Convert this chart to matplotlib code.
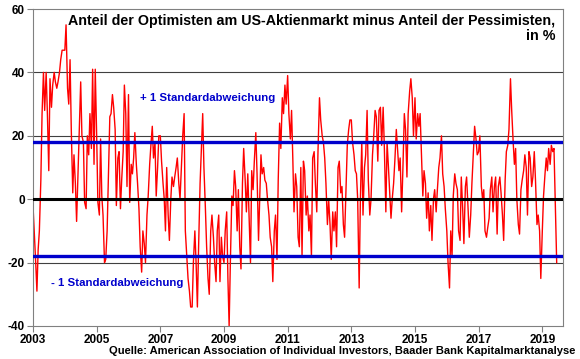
import numpy as np
import pandas as pd
import matplotlib
matplotlib.use("Agg")
import matplotlib.pyplot as plt

plt.rcParams['font.family'] = ['Liberation Sans', 'DejaVu Sans']

y2003 = [-2, -10, -20, -29, -16, -10, 6, 27, 40, 28, 40, 27, 9, 38, 29, 36, 40, 37, 35, 37, 40, 44, 47, 47]
y2004 = [47, 55, 35, 30, 44, 22, 2, 14, 5, -7, 9, 22, 37, 20, 18, -1, -3, 20, 14, 27, 16, 41, 11, 41]
y2005 = [20, -1, -5, 19, 1, -5, -20, -19, -10, 6, 26, 27, 33, 29, 22, -2, 13, 15, -3, 6, 15, 36, 27, 4]
y2006 = [33, -1, 11, 8, 13, 21, 11, 5, -3, -15, -23, -10, -14, -20, -5, 1, 11, 17, 23, 13, 18, 1, 10, 20]
y2007 = [20, 12, 5, 0, -10, 10, -5, -13, 0, 7, 4, 7, 10, 13, 5, 0, 11, 20, 27, -10, -18, -25, -29, -34]
y2008 = [-34, -20, -10, -20, -34, -15, 5, 15, 27, 10, -3, -15, -25, -30, -10, -5, -12, -20, -26, -10, -5, -26, -12, -18]
y2009 = [-20, -10, -4, -25, -40, -20, 1, -2, 9, 4, -10, 3, -15, -22, 5, 16, 6, -4, 8, -5, -20, 9, 3, 12]
y2010 = [21, 8, -13, 1, 14, 8, 10, 6, 5, 0, -5, -12, -15, -26, -10, -5, -19, 6, 24, 16, 32, 27, 36, 30]
y2011 = [39, 27, 19, 28, 13, -4, 8, 4, -12, -15, 10, -18, 12, 9, -5, 1, -10, -5, -18, 13, 15, 5, -4, 15]
y2012 = [32, 25, 20, 18, 13, 5, -8, 0, -8, -19, -4, -10, -4, -15, 10, 12, 2, 4, -8, -12, 4, 17, 22, 25]
y2013 = [25, 18, 14, 9, 8, 0, -28, 0, 18, -5, 10, 14, 28, 6, -5, 0, 14, 20, 28, 26, 12, 28, 29, 17]
y2014 = [29, 16, -4, 18, 11, 3, -6, 0, 5, 12, 22, 16, 9, 13, -4, 9, 27, 22, 7, 27, 34, 38, 32, 20]
y2015 = [32, 19, 27, 23, 27, 15, 1, 9, 5, -6, 2, -10, -2, -13, 0, 3, -4, 3, 10, 13, 20, 8, 4, -3]
y2016 = [-10, -20, -28, -10, -18, 1, 8, 5, 3, -10, -13, 7, -3, -14, 4, 7, -3, -12, -5, 5, 15, 23, 19, 14]
y2017 = [15, 20, 4, 0, 3, -10, -12, -9, -6, 3, 7, -4, 4, 7, -11, 4, 7, 2, -5, -13, 6, 15, 17, 22]
y2018 = [38, 28, 18, 11, 16, 0, -8, -11, 3, 6, 9, 14, 10, -5, 15, 13, 4, 7, 15, 6, -8, -5, -10, -25]
y2019 = [-10, 1, 8, 13, 9, 16, 11, 17, 15, 16, -3, -20]

spread = (y2003 + y2004 + y2005 + y2006 + y2007 + y2008 + y2009 + y2010 + y2011
          + y2012 + y2013 + y2014 + y2015 + y2016 + y2017 + y2018 + y2019)
dates = pd.date_range("2003-01-01", periods=len(spread), freq="SMS")
t = dates.year + (dates.dayofyear - 1) / 365.25

std_level = 18
year_ticks = list(range(2003, 2020, 2))
y_ticks = [-40, -20, 0, 20, 40, 60]

fig = plt.figure(figsize=(5.8, 3.59), dpi=100)
ax = fig.add_axes([33/580, 1-326/359, 530/580, 317/359])

for g in [-20, 20, 40]:
    ax.axhline(g, color='#404040', lw=0.8, zorder=1)
ax.plot(t, spread, color='#ff0000', lw=1.0, zorder=2)
ax.axhline(0, color='black', lw=2.2, zorder=3)
ax.axhline(std_level, color='#0000cc', lw=2.4, zorder=3)
ax.axhline(-std_level, color='#0000cc', lw=2.4, zorder=3)

ax.set_xlim(2003, 2019.65)
ax.set_ylim(-40, 60)
ax.set_xticks(year_ticks)
ax.set_xticklabels([str(y) for y in year_ticks], fontsize=8.5, fontweight='bold')
ax.set_yticks(y_ticks)
ax.set_yticklabels([str(v) for v in y_ticks], fontsize=8.5, fontweight='bold')
ax.tick_params(direction='out', length=4, color='#808080', pad=2)
for s in ax.spines.values():
    s.set_color('#808080')
    s.set_linewidth(0.8)

ax.text(0.985, 0.985, "Anteil der Optimisten am US-Aktienmarkt minus Anteil der Pessimisten,\nin %",
        transform=ax.transAxes, ha='right', va='top', fontsize=10.3, fontweight='bold',
        linespacing=1.15, zorder=5)
ax.text(2006.35, 32, "+ 1 Standardabweichung", color='#0000cc', fontsize=8.2,
        fontweight='bold', va='center', zorder=5)
ax.text(2003.55, -26.5, "- 1 Standardabweichung", color='#0000cc', fontsize=8.2,
        fontweight='bold', va='center', zorder=5)
fig.text(575/580, 1-351/359, "Quelle: American Association of Individual Investors, Baader Bank Kapitalmarktanalyse",
         ha='right', va='center', fontsize=8, fontweight='bold')

fig.savefig("out.png", dpi=100)
